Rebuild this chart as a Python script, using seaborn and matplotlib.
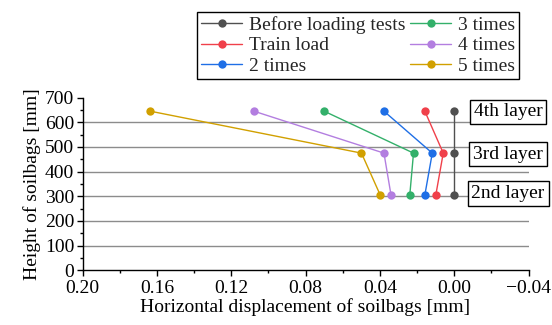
import numpy as np
import pandas as pd
import matplotlib
matplotlib.use("Agg")
import matplotlib.pyplot as plt
import seaborn as sns
from matplotlib.ticker import MultipleLocator
from matplotlib import font_manager

# ---- data ----
stages = ["Before loading tests", "Train load", "2 times", "3 times", "4 times", "5 times"]
heights = [645, 475, 305]
disp_before = [0.0, 0.0, 0.0]
disp_train = [0.0158, 0.0059, 0.0099]
disp_2 = [0.0378, 0.0118, 0.0158]
disp_3 = [0.0700, 0.0219, 0.0239]
disp_4 = [0.1078, 0.0378, 0.0340]
disp_5 = [0.1636, 0.0499, 0.0398]
colors = ["#505050", "#f0404a", "#1f6fe6", "#33b06a", "#b37ee0", "#d1a000"]
layer_labels = ["4th layer", "3rd layer", "2nd layer"]
layer_label_y = [642, 471, 310]
x_ticks = [0.20, 0.16, 0.12, 0.08, 0.04, 0.00, -0.04]
x_tick_labels = ["0.20", "0.16", "0.12", "0.08", "0.04", "0.00", "\u22120.04"]
y_ticks = [0, 100, 200, 300, 400, 500, 600, 700]

all_disp = [disp_before, disp_train, disp_2, disp_3, disp_4, disp_5]
rows = []
for s, d in zip(stages, all_disp):
    for h, x in zip(heights, d):
        rows.append({"stage": s, "disp": x, "height": h})
df = pd.DataFrame(rows)

sns.set_theme(style="ticks")
avail = {f.name for f in font_manager.fontManager.ttflist}
serif_pref = [f for f in ["Liberation Serif", "Times New Roman", "Nimbus Roman", "DejaVu Serif"] if f in avail]
plt.rcParams["font.family"] = "serif"
plt.rcParams["font.serif"] = serif_pref + ["DejaVu Serif"]
FONT = serif_pref[0] if serif_pref else "DejaVu Serif"

fig = plt.figure(figsize=(5.52, 3.25), dpi=100)
ax = fig.add_axes([0.1495, 0.1683, 0.808, 0.5314])

sns.lineplot(data=df, x="disp", y="height", hue="stage", hue_order=stages,
             palette=colors, sort=False, estimator=None, marker="o",
             markersize=6, markeredgewidth=0, linewidth=1.0, ax=ax, legend=True)

ax.set_xlim(0.20, -0.04)
ax.set_ylim(0, 700)
ax.set_xticks(x_ticks)
ax.set_xticklabels(x_tick_labels)
ax.set_yticks(y_ticks)
ax.xaxis.set_minor_locator(MultipleLocator(0.02))
ax.yaxis.set_minor_locator(MultipleLocator(50))
ax.tick_params(axis="both", which="major", direction="out", length=4, width=1,
               labelsize=14, color="black", labelcolor="black", pad=2)
ax.tick_params(axis="x", which="major", pad=3)
ax.tick_params(axis="both", which="minor", direction="out", length=2, width=1, color="black")
for lbl in ax.get_xticklabels() + ax.get_yticklabels():
    lbl.set_fontfamily(FONT)

for sp in ["top", "right"]:
    ax.spines[sp].set_visible(False)
for sp in ["left", "bottom"]:
    ax.spines[sp].set_color("black")
    ax.spines[sp].set_linewidth(1.0)

# horizontal grid lines (not at 0 / 700)
for yv in y_ticks[1:-1]:
    ax.axhline(yv, color="#8c8c8c", linewidth=1.0, zorder=0)

ax.set_xlabel("Horizontal displacement of soilbags [mm]", fontsize=14, color="black",
              labelpad=1, fontfamily=FONT)
ax.set_ylabel("Height of soilbags [mm]", fontsize=14, color="black", labelpad=3,
              fontfamily=FONT)

for lab, yv in zip(layer_labels, layer_label_y):
    ax.text(-0.029, yv, lab, fontsize=14, ha="center", va="center", color="black",
            clip_on=False, zorder=5, fontfamily=FONT,
            bbox=dict(boxstyle="square,pad=0.2", fc="white", ec="black", lw=1.0))

handles, labels = ax.get_legend_handles_labels()
if ax.get_legend() is not None:
    ax.get_legend().remove()
leg = fig.legend(handles, labels, loc="upper right", bbox_to_anchor=(0.9402, 0.963),
                 bbox_transform=fig.transFigure, ncol=2, frameon=True,
                 prop={"family": FONT, "size": 14},
                 fancybox=False, edgecolor="black", borderaxespad=0, borderpad=0.2,
                 handlelength=2.1, handletextpad=0.35, columnspacing=0.25, labelspacing=0.15)
leg.get_frame().set_linewidth(1.0)
leg.get_frame().set_alpha(1)

fig.savefig("out.png", dpi=100)
